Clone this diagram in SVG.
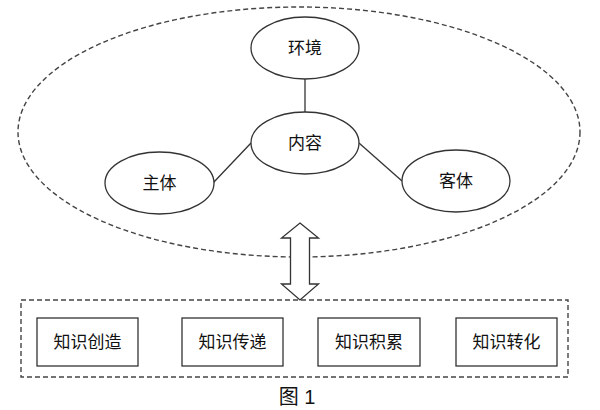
<svg xmlns="http://www.w3.org/2000/svg" width="600" height="410" viewBox="0 0 600 410">
<style>
.bg{fill:#fff}
.dash{fill:none;stroke:#444;stroke-width:1.4;stroke-dasharray:5 3}
.node{fill:#fff;stroke:#333;stroke-width:1.3}
.edge{fill:none;stroke:#333;stroke-width:1.3}
.t{font-family:"Noto Sans CJK SC","Liberation Sans",sans-serif;font-size:17px;fill:#111;text-anchor:middle}
.cap{font-family:"Liberation Sans","Noto Sans CJK SC",sans-serif;font-size:20px;fill:#111;text-anchor:middle}
</style>
<rect class="bg" width="600" height="410"/>
<g id="outer">
<ellipse class="dash" cx="299" cy="132" rx="281" ry="125"/>
</g>
<g id="connectors">
<line class="edge" x1="305" y1="79" x2="305" y2="112"/>
<line class="edge" x1="251" y1="143" x2="213" y2="183"/>
<line class="edge" x1="359" y1="143" x2="402" y2="181"/>
<path class="node" d="M300,223 L318.5,238 L309.5,238 L309.5,284 L318.5,284 L300,300 L281.5,284 L290.5,284 L290.5,238 L281.5,238 Z"/>
</g>
<g id="env">
<ellipse class="node" cx="305" cy="48" rx="54" ry="31"/>
<text class="t" x="305" y="54">环境</text>
</g>
<g id="content">
<ellipse class="node" cx="305" cy="143" rx="54" ry="31"/>
<text class="t" x="305" y="149">内容</text>
</g>
<g id="subject">
<ellipse class="node" cx="159.5" cy="183" rx="54.5" ry="31"/>
<text class="t" x="159.5" y="189">主体</text>
</g>
<g id="object">
<ellipse class="node" cx="456" cy="181" rx="54" ry="31"/>
<text class="t" x="456" y="187">客体</text>
</g>
<g id="group">
<rect class="dash" x="21" y="300" width="547" height="77"/>
</g>
<g id="k1">
<rect class="node" x="37" y="318" width="101" height="48"/>
<text class="t" x="87.5" y="348">知识创造</text>
</g>
<g id="k2">
<rect class="node" x="182" y="318" width="101" height="48"/>
<text class="t" x="232.5" y="348">知识传递</text>
</g>
<g id="k3">
<rect class="node" x="318" y="318" width="102" height="48"/>
<text class="t" x="369" y="348">知识积累</text>
</g>
<g id="k4">
<rect class="node" x="456" y="318" width="101" height="48"/>
<text class="t" x="506.5" y="348">知识转化</text>
</g>
<g id="caption">
<text class="cap" x="297" y="404">图 1</text>
</g>
</svg>
